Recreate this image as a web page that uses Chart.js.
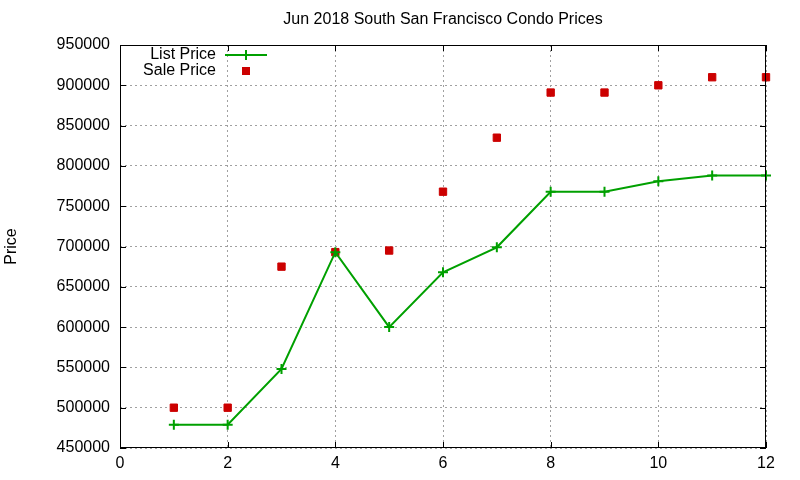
<!DOCTYPE html>
<html>
<head>
<meta charset="utf-8">
<script src="https://cdn.jsdelivr.net/npm/chart.js@4"></script>
<style>
  html, body { margin: 0; padding: 0; background: #fff; }
  #wrap { width: 800px; height: 480px; }
</style>
</head>
<body>
<div id="wrap"><canvas id="condoChart" width="800" height="480"></canvas></div>
<script>
const months = [1, 2, 3, 4, 5, 6, 7, 8, 9, 10, 11, 12];
const listPrices = [479000, 479000, 548000, 693000, 600000, 668000, 699000, 768000, 768000, 781000, 788000, 788000];
const salePrices = [500000, 500000, 675000, 693000, 695000, 768000, 835000, 891000, 891000, 900000, 910000, 910000];
const titleText = 'Jun 2018 South San Francisco Condo Prices';
const yTitle = 'Price';

const FONT = 'Liberation Sans, Arial, sans-serif';

// gnuplot style frame, inward ticks, title and key
const gnuplotLook = {
    id: 'gnuplotLook',
    afterDraw(chart) {
        const ctx = chart.ctx;
        const a = chart.chartArea;
        const xs = chart.scales.x, ys = chart.scales.y;
        ctx.save();
        ctx.strokeStyle = '#000';
        ctx.lineWidth = 1;
        ctx.strokeRect(a.left + 0.5, a.top + 0.5, a.right - a.left - 1, a.bottom - a.top - 1);
        ctx.beginPath();
        xs.ticks.forEach(t => {
            const px = Math.round(xs.getPixelForValue(t.value)) + 0.5;
            ctx.moveTo(px, a.bottom); ctx.lineTo(px, a.bottom - 6);
            ctx.moveTo(px, a.top); ctx.lineTo(px, a.top + 6);
        });
        ys.ticks.forEach(t => {
            const py = Math.round(ys.getPixelForValue(t.value)) + 0.5;
            ctx.moveTo(a.left, py); ctx.lineTo(a.left + 6, py);
            ctx.moveTo(a.right, py); ctx.lineTo(a.right - 6, py);
        });
        ctx.stroke();

        // title
        ctx.fillStyle = '#000';
        ctx.font = '16px ' + FONT;
        ctx.textAlign = 'center';
        ctx.textBaseline = 'middle';
        ctx.fillText(titleText, (a.left + a.right) / 2, 20);

        // key
        const ds = chart.data.datasets;
        ctx.textAlign = 'right';
        ctx.fillText(ds[0].label, 216, 55);
        ctx.fillText(ds[1].label, 216, 71);
        ctx.strokeStyle = ds[0].borderColor;
        ctx.lineWidth = 2;
        ctx.beginPath();
        ctx.moveTo(225, 55); ctx.lineTo(267, 55);
        ctx.moveTo(246, 50); ctx.lineTo(246, 60);
        ctx.stroke();
        ctx.fillStyle = ds[1].backgroundColor;
        ctx.fillRect(242, 67, 8, 8);
        ctx.restore();
    }
};

const data = {
    labels: months,
    datasets: [
        {
            label: 'List Price',
            data: months.map((m, i) => ({ x: m, y: listPrices[i] })),
            borderColor: '#00a000',
            backgroundColor: '#00a000',
            borderWidth: 2,
            pointStyle: 'cross',
            pointRadius: 5,
            pointBorderWidth: 2,
            tension: 0,
            clip: false
        },
        {
            label: 'Sale Price',
            data: months.map((m, i) => ({ x: m, y: salePrices[i] })),
            showLine: false,
            borderColor: '#cc0000',
            backgroundColor: '#cc0000',
            pointStyle: 'rect',
            pointRadius: 5.2,
            pointBorderWidth: 1,
            clip: false
        }
    ]
};

const config = {
    type: 'line',
    data: data,
    options: {
        responsive: false,
        animation: false,
        events: [],
        layout: { padding: { top: 45, right: 34, left: 0, bottom: 0 } },
        plugins: {
            legend: { display: false },
            title: { display: false },
            tooltip: { enabled: false }
        },
        scales: {
            x: {
                type: 'linear',
                min: 0,
                max: 12,
                ticks: {
                    stepSize: 2,
                    color: '#000',
                    font: { family: FONT, size: 16 },
                    padding: 6,
                    callback: v => String(v)
                },
                grid: { color: '#a0a0a0', drawTicks: false, tickLength: 0 },
                border: { display: false, dash: [2, 3] },
                afterFit: scale => { scale.height = 32; }
            },
            y: {
                min: 450000,
                max: 950000,
                ticks: {
                    stepSize: 50000,
                    color: '#000',
                    font: { family: FONT, size: 16 },
                    padding: 10,
                    callback: v => String(v)
                },
                grid: { color: '#a0a0a0', drawTicks: false, tickLength: 0 },
                border: { display: false, dash: [2, 3] },
                title: {
                    display: true,
                    text: yTitle,
                    color: '#000',
                    font: { family: FONT, size: 16 },
                    padding: { top: 2, bottom: 0 }
                },
                afterFit: scale => { scale.width = 120; }
            }
        }
    },
    plugins: [gnuplotLook]
};

new Chart(document.getElementById('condoChart').getContext('2d'), config);
</script>
</body>
</html>
